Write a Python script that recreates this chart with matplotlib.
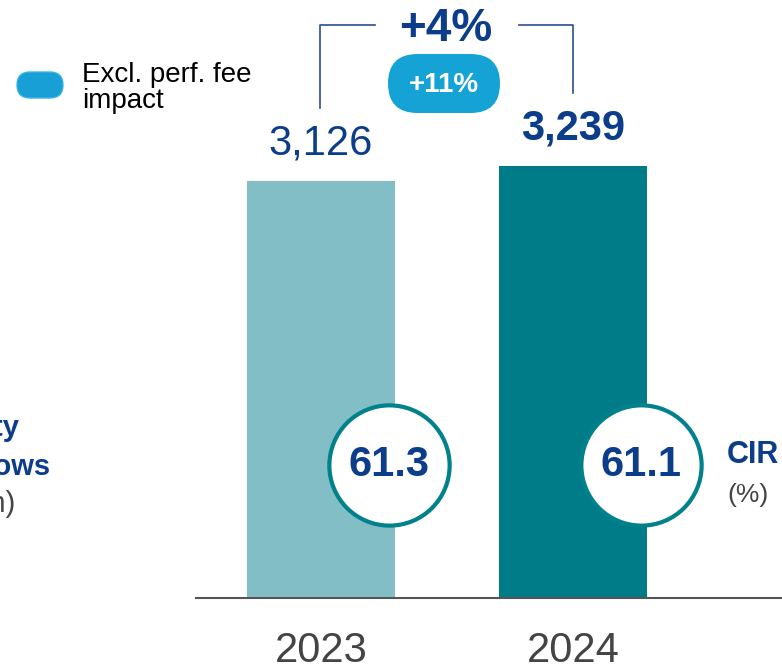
import matplotlib
matplotlib.use("Agg")
import matplotlib.pyplot as plt
from matplotlib.patches import FancyBboxPatch
from matplotlib.lines import Line2D

plt.rcParams["font.family"] = ["Liberation Sans", "DejaVu Sans"]

#   chart data
years = ["2023", "2024"]
values = [3126, 3239]
value_labels = ["3,126", "3,239"]
cir_values = ["61.3", "61.1"]
growth_label = "+4%"
growth_excl_label = "+11%"

#   colours
bar_colors = ["#82bec6", "#007c89"]
dark_blue = "#0c3d8a"
pill_blue = "#15a3d6"
circle_edge = "#00818c"
grey = "#444444"

W, H = 782, 670
fig = plt.figure(figsize=(W / 100, H / 100), dpi=100)


def fx(px):
    return px / W


def fy(py):
    return 1 - py / H


#   axes placed so baseline sits at y=598 px
ax = fig.add_axes([fx(196), fy(598), fx(782) - fx(196), fy(0) - fy(598)])
ax.set_xlim(-0.496, 1.829)
ax.set_ylim(0, 4483)

x = list(range(len(years)))
bar_weights = ["normal", "bold"]
ax.bar(x, values, width=0.587, color=bar_colors, zorder=2)

for i in x:
    ax.annotate(value_labels[i], (x[i], values[i]), xytext=(0, 27), textcoords="offset points",
                ha="center", va="center", fontsize=30, color=dark_blue, fontweight=bar_weights[i])

#   CIR circles
circ_x = [i + 0.27 for i in x]
circ_y = [997] * len(x)
ax.scatter(circ_x, circ_y, s=7500, facecolor="white", edgecolor=circle_edge, linewidth=3, zorder=3)
for i in x:
    ax.text(circ_x[i], circ_y[i], cir_values[i], ha="center", va="center", fontsize=30,
            fontweight="bold", color=dark_blue, zorder=4)

#   year labels under the axis
for i in x:
    ax.annotate(years[i], (x[i], 0), xytext=(0, -38), textcoords="offset points",
                ha="center", va="center", fontsize=30, color=grey)

for s in ["top", "right", "left"]:
    ax.spines[s].set_visible(False)
ax.spines["bottom"].set_color("#555555")
ax.spines["bottom"].set_linewidth(1.5)
ax.set_xticks([])
ax.set_yticks([])

#   growth bracket
lc = "#2b4f8c"
fig.add_artist(Line2D([fx(320), fx(320), fx(375)], [fy(108), fy(25), fy(25)], color=lc, lw=1.2))
fig.add_artist(Line2D([fx(519), fx(573), fx(573)], [fy(25), fy(25), fy(93)], color=lc, lw=1.2))
fig.text(fx(446), fy(29), growth_label, ha="center", va="center", fontsize=33,
         fontweight="bold", color=dark_blue)

#   rounded pill drawn in pixel space
pill = FancyBboxPatch((388, H - 113), 112, 59,
                      boxstyle="round,pad=0,rounding_size=29.5", transform=None,
                      facecolor=pill_blue, edgecolor="none")
fig.add_artist(pill)
fig.text(fx(444), fy(85), growth_excl_label, ha="center", va="center", fontsize=20,
         fontweight="bold", color="white")

#   legend
leg = FancyBboxPatch((17, H - 98), 46, 26, boxstyle="round,pad=0,rounding_size=13",
                     transform=None, facecolor="#189fd6", edgecolor="#3ab4e6", lw=1)
fig.add_artist(leg)
fig.text(fx(82), fy(88), "Excl. perf. fee\nimpact", ha="left", va="center", fontsize=20,
         color="black", linespacing=0.98)

#   left-hand label (partly outside the picture, as in the original slide)
fig.text(fx(20), fy(428), "Quality", ha="right", va="center", fontsize=21,
         fontweight="bold", color=dark_blue)
fig.text(fx(50), fy(467), "revenue flows", ha="right", va="center", fontsize=21,
         fontweight="bold", color=dark_blue)
fig.text(fx(15), fy(504), "(EUR m)", ha="right", va="center", fontsize=21, color=grey)

#   right-hand CIR label
fig.text(fx(727), fy(455), "CIR", ha="left", va="center", fontsize=22,
         fontweight="bold", color=dark_blue)
fig.text(fx(727), fy(495), "(%)", ha="left", va="center", fontsize=19, color=grey)

fig.savefig("out.png", dpi=100)
